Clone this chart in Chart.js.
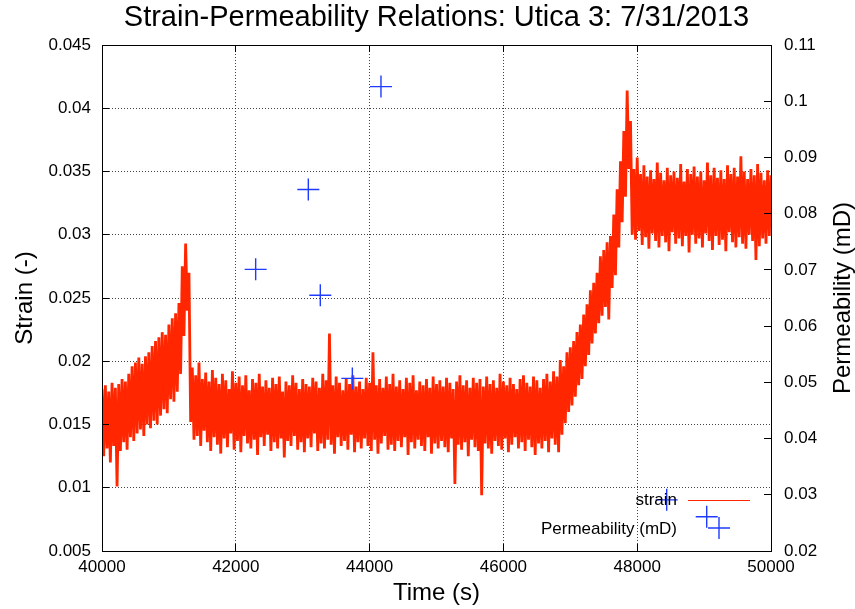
<!DOCTYPE html>
<html>
<head>
<meta charset="utf-8">
<script src="https://cdn.jsdelivr.net/npm/chart.js@4.4.0/dist/chart.umd.min.js"></script>
<style>
  html, body { margin: 0; padding: 0; background: #fff; }
  #wrap { width: 855px; height: 609px; }
</style>
</head>
<body>
<div id="wrap"><canvas id="strainChart" width="855" height="609"></canvas></div>
<script>
// strain is sampled every 25 s; each segment starts at its own time
const strainStep = 25;

const rampOneStart = 40000;
const rampOneStrain = [
  .0178, .0125, .0181, .0131, .0176, .0120, .0183, .0133, .0179, .0101,
  .0182, .0129, .0186, .0136, .0184, .0130, .0190, .0140, .0196, .0137,
  .0199, .0143, .0203, .0146, .0198, .0141, .0204, .0150, .0207, .0147,
  .0212, .0153, .0216, .0150, .0219, .0157, .0223, .0162, .0221, .0159,
  .0229, .0170, .0234, .0168, .0238, .0176, .0246, .0190, .0275, .0220,
  .0293, .0240, .0270
];

const plateauOneStart = 41325;
const plateauOneStrain = [
  .0152, .0195, .0138, .0189, .0141, .0199, .0133, .0186, .0145, .0191,
  .0136, .0184, .0129, .0193, .0140, .0187, .0134, .0182, .0127, .0190,
  .0139, .0185, .0132, .0178, .0143, .0192, .0130, .0183, .0137, .0188,
  .0128, .0181, .0141, .0189, .0135, .0177, .0131, .0186, .0138, .0183,
  .0126, .0190, .0140, .0180, .0133, .0185, .0142, .0179, .0129, .0187,
  .0136, .0182, .0131, .0188, .0139, .0176, .0124, .0184, .0137, .0181,
  .0133, .0189, .0141, .0183, .0130, .0178, .0136, .0186, .0128, .0182,
  .0139, .0180, .0132, .0187, .0143, .0184, .0129, .0179, .0135, .0190,
  .0131, .0185, .0138, .0222, .0134, .0181, .0127, .0188, .0140, .0183,
  .0133, .0177, .0137, .0186, .0130, .0182, .0142, .0189, .0128, .0180,
  .0136, .0184, .0131, .0178, .0139, .0187, .0133, .0183, .0129, .0207,
  .0138, .0181, .0127, .0186, .0135, .0179, .0141, .0188, .0130, .0182,
  .0134, .0190, .0129, .0180, .0137, .0185, .0132, .0178, .0140, .0187,
  .0126, .0183, .0136, .0189, .0131, .0177, .0138, .0184, .0133, .0181,
  .0129, .0186, .0140, .0179, .0127, .0188, .0135, .0182, .0131, .0185,
  .0137, .0180, .0132, .0187, .0128, .0183, .0139, .0178, .0103, .0184,
  .0134, .0189, .0130, .0181, .0136, .0185, .0125, .0179, .0138, .0187,
  .0132, .0183, .0129, .0186, .0094, .0180, .0135, .0188, .0131, .0182,
  .0127, .0185, .0137, .0179, .0133, .0190, .0130, .0184, .0139, .0181,
  .0128, .0187, .0134, .0182, .0140, .0178, .0131, .0186, .0136, .0189,
  .0129, .0183, .0138, .0180, .0132, .0188, .0126, .0185, .0135, .0179,
  .0131, .0186, .0137, .0190, .0128, .0184, .0139, .0192, .0134, .0188
];

const rampTwoStart = 46825;
const rampTwoStrain = [
  .0128, .0201, .0142, .0196, .0151, .0207, .0160, .0211, .0165, .0216,
  .0172, .0223, .0181, .0229, .0186, .0237, .0196, .0245, .0205, .0256,
  .0214, .0262, .0222, .0270, .0230, .0283, .0236, .0288, .0243, .0294,
  .0233, .0299, .0258, .0316, .0268, .0336, .0290, .0358, .0310, .0382,
  .0330, .0414, .0352, .0390
];

const plateauTwoStart = 47925;
const plateauTwoStrain = [
  .0300, .0352, .0296, .0361, .0303, .0348, .0292, .0355, .0298, .0346,
  .0289, .0351, .0301, .0344, .0295, .0357, .0290, .0349, .0299, .0343,
  .0294, .0353, .0287, .0347, .0302, .0350, .0293, .0345, .0297, .0356,
  .0291, .0342, .0299, .0352, .0286, .0348, .0300, .0354, .0293, .0346,
  .0297, .0350, .0290, .0343, .0301, .0357, .0295, .0347, .0288, .0353,
  .0299, .0345, .0292, .0351, .0296, .0344, .0287, .0355, .0302, .0348,
  .0294, .0353, .0290, .0346, .0298, .0362, .0293, .0350, .0289, .0344,
  .0300, .0352, .0295, .0347, .0280, .0356, .0291, .0349, .0297, .0343,
  .0293, .0351, .0299, .0347
];

const permTime = [42297, 43084, 43263, 43742, 44170, 48441, 49039];
const permValue = [0.0701, 0.0843, 0.0655, 0.0507, 0.1026, 0.0291, 0.0261];

const chartTitle = "Strain-Permeability Relations: Utica 3: 7/31/2013";
const xTitle = "Time (s)";
const yTitle = "Strain (-)";
const y2Title = "Permeability (mD)";

const fontFamily = "'Liberation Sans', Arial, Helvetica, sans-serif";
const red = "rgb(255, 38, 0)";
const blue = "rgb(30, 60, 255)";

const toPoints = (start, values) => values.map((v, i) => ({ x: start + i * strainStep, y: v }));
const strainData = [].concat(
  toPoints(rampOneStart, rampOneStrain),
  toPoints(plateauOneStart, plateauOneStrain),
  toPoints(rampTwoStart, rampTwoStrain),
  toPoints(plateauTwoStart, plateauTwoStrain)
);
const permData = permTime.map((t, i) => ({ x: t, y: permValue[i] }));

const trimNumber = v => String(parseFloat(Number(v).toFixed(4)));

// gnuplot style: frame, inward ticks, key at bottom right, y2 label
const gnuplotBits = {
  id: "gnuplotBits",
  afterDatasetsDraw(chart) {
    const { ctx, chartArea: ca, scales } = chart;
    ctx.save();
    ctx.strokeStyle = "#000";
    ctx.lineWidth = 1;
    ctx.beginPath();
    scales.x.ticks.forEach(t => {
      const px = Math.round(scales.x.getPixelForValue(t.value) - 0.5) + 0.5;
      ctx.moveTo(px, ca.bottom); ctx.lineTo(px, ca.bottom - 7);
      ctx.moveTo(px, ca.top); ctx.lineTo(px, ca.top + 7);
    });
    scales.y.ticks.forEach(t => {
      const py = Math.round(scales.y.getPixelForValue(t.value) - 0.5) + 0.5;
      ctx.moveTo(ca.left, py); ctx.lineTo(ca.left + 7, py);
    });
    scales.y2.ticks.forEach(t => {
      const py = Math.round(scales.y2.getPixelForValue(t.value) - 0.5) + 0.5;
      ctx.moveTo(ca.right, py); ctx.lineTo(ca.right - 7, py);
    });
    ctx.stroke();
    ctx.strokeRect(ca.left + 0.5, ca.top + 0.5, ca.width, ca.height);

    // key
    const [strain, perm] = chart.data.datasets;
    const sampleEnd = ca.right - 21;
    const sampleStart = sampleEnd - 62;
    const textRight = sampleStart - 11;
    const row1 = ca.bottom - 51;
    const row2 = ca.bottom - 22;
    ctx.font = "17px " + fontFamily;
    ctx.fillStyle = "#000";
    ctx.textAlign = "right";
    ctx.textBaseline = "middle";
    ctx.fillText(strain.label, textRight, row1);
    ctx.fillText(perm.label, textRight, row2);
    ctx.strokeStyle = strain.borderColor;
    ctx.lineWidth = 1.2;
    ctx.beginPath();
    ctx.moveTo(sampleStart, row1 + 0.5);
    ctx.lineTo(sampleEnd, row1 + 0.5);
    ctx.stroke();
    const cx = (sampleStart + sampleEnd) / 2;
    const r = perm.pointRadius;
    ctx.strokeStyle = perm.borderColor;
    ctx.lineWidth = perm.pointBorderWidth;
    ctx.beginPath();
    ctx.moveTo(cx - r, row2 - 1); ctx.lineTo(cx + r, row2 - 1);
    ctx.moveTo(cx, row2 - 1 - r); ctx.lineTo(cx, row2 - 1 + r);
    ctx.stroke();

    // right axis label reads bottom to top like the left one
    ctx.save();
    ctx.translate(chart.width - 12, (ca.top + ca.bottom) / 2);
    ctx.rotate(-Math.PI / 2);
    ctx.font = "24px " + fontFamily;
    ctx.textAlign = "center";
    ctx.fillStyle = "#000";
    ctx.fillText(y2Title, 0, 0);
    ctx.restore();
    ctx.restore();
  }
};

Chart.defaults.font.family = fontFamily;
Chart.defaults.color = "#000";

const tickFont = { size: 17 };
const gridOpts = { color: "rgba(0,0,0,0.75)", lineWidth: 1, drawTicks: false };
const borderOpts = { color: "#000", width: 1, dash: [1, 2] };

new Chart(document.getElementById("strainChart"), {
  type: "line",
  data: {
    datasets: [
      {
        label: "strain",
        data: strainData,
        borderColor: red,
        backgroundColor: red,
        borderWidth: 2.8,
        borderJoinStyle: "bevel",
        pointRadius: 0,
        tension: 0,
        fill: false,
        yAxisID: "y",
        order: 1
      },
      {
        label: "Permeability (mD)",
        data: permData,
        showLine: false,
        pointStyle: "cross",
        pointRadius: 11,
        pointBorderWidth: 1.4,
        borderColor: blue,
        backgroundColor: blue,
        yAxisID: "y2",
        order: 0
      }
    ]
  },
  options: {
    responsive: false,
    animation: false,
    devicePixelRatio: 1,
    events: [],
    layout: { padding: 0 },
    plugins: {
      legend: { display: false },
      tooltip: { enabled: false },
      title: {
        display: true,
        text: chartTitle,
        fullSize: false,
        color: "#000",
        font: { size: 29, weight: "normal" },
        padding: { top: 1, bottom: 9.2 }
      }
    },
    scales: {
      x: {
        type: "linear",
        min: 40000,
        max: 50000,
        afterFit: s => { s.height = 58; },
        ticks: { stepSize: 2000, font: tickFont, padding: 6, maxRotation: 0, callback: v => String(v) },
        grid: gridOpts,
        border: borderOpts,
        title: { display: true, text: xTitle, font: { size: 24 }, padding: { top: 0, bottom: 1 } }
      },
      y: {
        position: "left",
        min: 0.005,
        max: 0.045,
        afterFit: s => { s.width = 102; },
        ticks: { stepSize: 0.005, font: tickFont, padding: 11, callback: trimNumber },
        grid: gridOpts,
        border: borderOpts,
        title: { display: true, text: yTitle, font: { size: 24 }, padding: { top: 11, bottom: 0 } }
      },
      y2: {
        position: "right",
        min: 0.02,
        max: 0.11,
        afterFit: s => { s.width = 84; },
        ticks: { stepSize: 0.01, font: tickFont, padding: 13, callback: trimNumber },
        grid: { drawOnChartArea: false, drawTicks: false },
        border: { color: "#000", width: 1 }
      }
    }
  },
  plugins: [gnuplotBits]
});
</script>
</body>
</html>
